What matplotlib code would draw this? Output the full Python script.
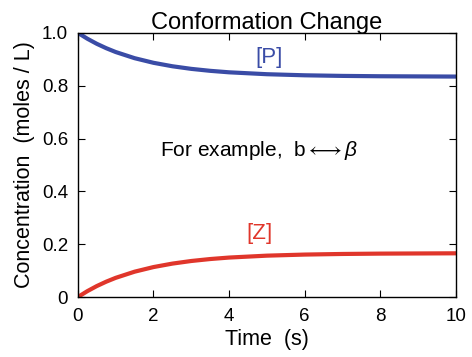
import numpy as np
import matplotlib
matplotlib.use("Agg")
import matplotlib.pyplot as plt

plt.rcParams['font.family'] = ['Liberation Sans', 'DejaVu Sans']
plt.rcParams['mathtext.fontset'] = 'custom'
plt.rcParams['mathtext.it'] = 'Liberation Sans:italic'
plt.rcParams['mathtext.rm'] = 'Liberation Sans'

# valeurs
t = [0, 0.25, 0.5, 0.75, 1, 1.5, 2, 2.5, 3, 3.5, 4, 5, 6, 7, 8, 10]
Z = [0, 0.0222, 0.0415, 0.0581, 0.0726, 0.0959, 0.1134, 0.1265, 0.1364,
     0.1438, 0.1494, 0.1566, 0.1607, 0.1630, 0.1643, 0.1655]
P = [1 - z for z in Z]

xticks = [0, 2, 4, 6, 8, 10]
yticks = [0, 0.2, 0.4, 0.6, 0.8, 1.0]
ylabels = ["0", "0.2", "0.4", "0.6", "0.8", "1.0"]

blue = "#3a4ca6"
red = "#e0362b"

fig = plt.figure(figsize=(4.72, 3.57), dpi=100)
ax = fig.add_axes([0.165, 0.168, 0.801, 0.74])

ax.plot(t, P, color=blue, lw=3.0, solid_capstyle='round')
ax.plot(t, Z, color=red, lw=3.0, solid_capstyle='round')

ax.set_xlim(0, 10)
ax.set_ylim(0, 1.0)
ax.set_xticks(xticks)
ax.set_yticks(yticks)
ax.set_yticklabels(ylabels)
ax.tick_params(direction='in', top=True, right=True, length=5, width=0.8,
               labelsize=13.5, colors='black')
ax.tick_params(axis='x', pad=8)
ax.tick_params(axis='y', pad=7)
for s in ax.spines.values():
    s.set_linewidth(1.0)

ax.set_xlabel("Time  (s)", fontsize=15.5, labelpad=3)
ax.set_ylabel("Concentration  (moles / L)", fontsize=15.5, labelpad=5)
ax.set_title("Conformation Change", fontsize=17, pad=3)

ax.text(5.05, 0.905, "[P]", color=blue, fontsize=16, ha='center', va='center')
ax.text(4.8, 0.24, "[Z]", color=red, fontsize=16, ha='center', va='center')
ax.text(4.8, 0.555, "For example,  b$\\longleftrightarrow\\it{\\beta}$", fontsize=15,
        ha='center', va='center')

fig.savefig("out.png", dpi=100)
